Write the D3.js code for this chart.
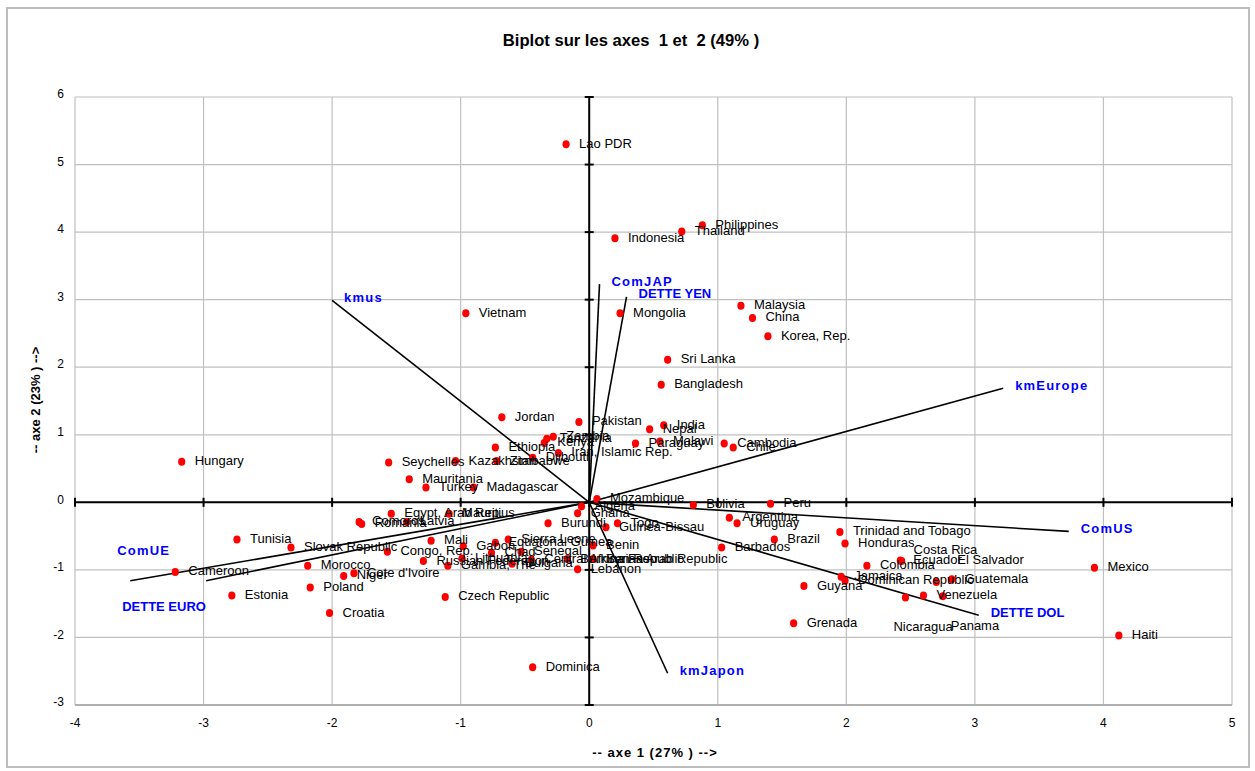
<!DOCTYPE html>
<html>
<head>
<meta charset="utf-8">
<script src="https://cdn.jsdelivr.net/npm/d3@7"></script>
<style>
  body { margin: 0; background: #fff; }
  svg { font-family: Arial, "Liberation Sans", sans-serif; }
</style>
</head>
<body>
<svg id="chart" width="1255" height="771"></svg>
<script>
// individuals (countries) on axes 1 and 2
var countries = ["Lao PDR", "Philippines", "Thailand", "Indonesia", "Vietnam", "Mongolia", "Malaysia", "China",
  "Korea, Rep.", "Sri Lanka", "Bangladesh", "Jordan", "Pakistan", "India", "Nepal", "Zambia", "Tanzania", "Kenya",
  "Ethiopia", "Paraguay", "Malawi", "Cambodia", "Chile", "Iran, Islamic Rep.", "Djibouti", "Zimbabwe", "Kazakhstan",
  "Hungary", "Seychelles", "Mauritania", "Turkey", "Madagascar", "Mozambique", "Algeria", "Ghana", "Bolivia", "Peru",
  "Egypt, Arab Rep.", "Mauritius", "Comoros", "Romania", "Latvia", "Burundi", "Togo", "Guinea-Bissau", "Argentina",
  "Uruguay", "Tunisia", "Slovak Republic", "Trinidad and Tobago", "Brazil", "Honduras", "Barbados", "Mali", "Gabon",
  "Sierra Leone", "Equatorial Guinea", "Benin", "Congo, Rep.", "Chad", "Senegal", "Central African Republic",
  "Burkina Faso", "Syrian Arab Republic", "Lebanon", "Russian Federation", "Lithuania", "Gambia, The", "Bulgaria",
  "Cameroon", "Morocco", "Niger", "Cote d'Ivoire", "Estonia", "Poland", "Croatia", "Czech Republic", "Dominica",
  "Ecuador", "Costa Rica", "El Salvador", "Colombia", "Jamaica", "Dominican Republic", "Guatemala", "Guyana",
  "Venezuela", "Nicaragua", "Panama", "Grenada", "Mexico", "Haiti"];

var axis1 = [-0.18, 0.88, 0.72, 0.20, -0.96, 0.24, 1.18, 1.27,
  1.39, 0.61, 0.56, -0.68, -0.08, 0.58, 0.47, -0.28, -0.33, -0.35,
  -0.73, 0.36, 0.55, 1.05, 1.12, -0.24, -0.44, -0.72, -1.04,
  -3.17, -1.56, -1.40, -1.27, -0.90, 0.06, -0.06, -0.09, 0.81, 1.41,
  -1.54, -1.09, -1.79, -1.77, -1.42, -0.32, 0.22, 0.13, 1.09,
  1.15, -2.74, -2.32, 1.95, 1.44, 1.99, 1.03, -1.23, -0.98,
  -0.63, -0.73, 0.03, -1.57, -0.76, -0.53, -0.45,
  -0.17, 0.03, -0.09, -1.29, -0.99, -1.10, -0.60,
  -3.22, -2.19, -1.91, -1.83, -2.78, -2.17, -2.02, -1.12, -0.44,
  2.42, 2.43, 2.70, 2.16, 1.96, 1.99, 2.82, 1.67,
  2.60, 2.46, 2.75, 1.59, 3.93, 4.12];

var axis2 = [5.30, 4.10, 4.01, 3.91, 2.80, 2.80, 2.91, 2.73,
  2.46, 2.11, 1.74, 1.26, 1.19, 1.14, 1.08, 0.97, 0.94, 0.88,
  0.81, 0.87, 0.90, 0.87, 0.81, 0.73, 0.66, 0.61, 0.61,
  0.60, 0.59, 0.34, 0.22, 0.22, 0.05, -0.06, -0.16, -0.04, -0.02,
  -0.17, -0.17, -0.29, -0.32, -0.29, -0.31, -0.31, -0.37, -0.23,
  -0.31, -0.55, -0.67, -0.44, -0.55, -0.61, -0.67, -0.57, -0.65,
  -0.55, -0.60, -0.64, -0.73, -0.75, -0.73, -0.85,
  -0.84, -0.84, -0.99, -0.87, -0.83, -0.94, -0.91,
  -1.03, -0.94, -1.09, -1.05, -1.38, -1.26, -1.64, -1.40, -2.44,
  -0.86, -0.87, -1.18, -0.94, -1.10, -1.16, -1.14, -1.24,
  -1.38, -1.41, -1.39, -1.79, -0.97, -1.97];

// variables (vector end points)
var variables = ["kmus", "ComJAP", "DETTE YEN", "kmEurope", "ComUS", "DETTE DOL", "kmJapon", "ComUE", "DETTE EURO"];
var varAxis1 = [-2.00, 0.08, 0.29, 3.22, 3.73, 3.03, 0.61, -3.57, -2.98];
var varAxis2 = [2.99, 3.23, 3.04, 1.69, -0.43, -1.67, -2.53, -1.16, -1.16];

var xTicks = d3.range(-4, 6);
var yTicks = d3.range(-3, 7);

var title = "Biplot sur les axes  1 et  2 (49% )";
var xTitle = "-- axe 1 (27% ) -->";
var yTitle = "-- axe 2 (23% ) -->";

// manual label moves (px), as in the original sheet
var labelNudge = {
  "Nicaragua": [-12, 30],
  "Panama": [8, 30],
  "Costa Rica": [12, -11],
  "El Salvador": [21, -21],
  "ComUE": [-13, -29],
  "DETTE EURO": [-84, 27]
};

var svg = d3.select("#chart");

var margin = {left: 75, right: 1232, top: 97, bottom: 705};
var x = d3.scaleLinear().domain([-4, 5]).range([margin.left, margin.right]);
var y = d3.scaleLinear().domain([-3, 6]).range([margin.bottom, margin.top]);

// outer frame
svg.append("rect")
  .attr("x", 7).attr("y", 8).attr("width", 1242).attr("height", 759)
  .style("fill", "none").style("stroke", "#bdbdbd").style("stroke-width", 2);

svg.append("text")
  .attr("x", 631).attr("y", 46)
  .attr("text-anchor", "middle")
  .style("font-weight", "bold").style("font-size", "16.6px")
  .style("white-space", "pre")
  .text(title);

// grid
var grid = svg.append("g").attr("class", "grid");
grid.selectAll("line.v").data(xTicks).enter().append("line")
  .attr("x1", function(d) { return x(d); }).attr("x2", function(d) { return x(d); })
  .attr("y1", y(-3)).attr("y2", y(6))
  .style("stroke", "#c0c0c0").style("stroke-width", 1.2);
grid.selectAll("line.h").data(yTicks).enter().append("line")
  .attr("y1", function(d) { return y(d); }).attr("y2", function(d) { return y(d); })
  .attr("x1", x(-4)).attr("x2", x(5))
  .style("stroke", "#c0c0c0").style("stroke-width", 1.2);
grid.append("line")
  .attr("x1", x(-4)).attr("x2", x(5)).attr("y1", y(-3)).attr("y2", y(-3))
  .style("stroke", "#b0b0b0").style("stroke-width", 2);

// tick labels
svg.selectAll("text.ytick").data(yTicks).enter().append("text")
  .attr("class", "ytick")
  .attr("x", 64).attr("y", function(d) { return y(d) - 2; })
  .attr("text-anchor", "end").attr("dominant-baseline", "middle")
  .style("font-size", "12px")
  .text(function(d) { return d; });
svg.selectAll("text.xtick").data(xTicks).enter().append("text")
  .attr("class", "xtick")
  .attr("x", function(d) { return x(d); }).attr("y", 724)
  .attr("text-anchor", "middle").attr("dominant-baseline", "middle")
  .style("font-size", "12px")
  .text(function(d) { return d; });

// axis titles
svg.append("text")
  .attr("x", 655).attr("y", 757)
  .attr("text-anchor", "middle")
  .style("font-weight", "bold").style("font-size", "13px")
  .style("letter-spacing", "1px")
  .style("white-space", "pre")
  .text(xTitle);
svg.append("text")
  .attr("transform", "translate(40,400) rotate(-90)")
  .attr("text-anchor", "middle")
  .style("font-weight", "bold").style("font-size", "13px")
  .style("white-space", "pre")
  .text(yTitle);

// axes through the origin, with cross ticks
var axes = svg.append("g").attr("class", "axes");
axes.append("line")
  .attr("x1", x(-4)).attr("x2", x(5)).attr("y1", y(0)).attr("y2", y(0))
  .style("stroke", "#000").style("stroke-width", 2);
axes.append("line")
  .attr("x1", x(0)).attr("x2", x(0)).attr("y1", y(-3)).attr("y2", y(6))
  .style("stroke", "#000").style("stroke-width", 2);
axes.selectAll("line.xt").data(xTicks).enter().append("line")
  .attr("x1", function(d) { return x(d); }).attr("x2", function(d) { return x(d); })
  .attr("y1", y(0) - 4.5).attr("y2", y(0) + 4.5)
  .style("stroke", "#000").style("stroke-width", 2);
axes.selectAll("line.yt").data(yTicks).enter().append("line")
  .attr("y1", function(d) { return y(d); }).attr("y2", function(d) { return y(d); })
  .attr("x1", x(0) - 4.5).attr("x2", x(0) + 4.5)
  .style("stroke", "#000").style("stroke-width", 2);

// variable vectors
var vars = variables.map(function(v, i) { return {name: v, a1: varAxis1[i], a2: varAxis2[i]}; });
svg.append("g").selectAll("line").data(vars).enter().append("line")
  .attr("x1", x(0)).attr("y1", y(0))
  .attr("x2", function(d) { return x(d.a1); })
  .attr("y2", function(d) { return y(d.a2); })
  .style("stroke", "#000").style("stroke-width", 1.6);

// country points
var pts = countries.map(function(c, i) { return {name: c, a1: axis1[i], a2: axis2[i]}; });
svg.append("g").selectAll("ellipse").data(pts).enter().append("ellipse")
  .attr("cx", function(d) { return x(d.a1); })
  .attr("cy", function(d) { return y(d.a2); })
  .attr("rx", 3.6).attr("ry", 4)
  .style("fill", "#ff0000");

svg.append("g").selectAll("text").data(pts).enter().append("text")
  .attr("x", function(d) { var n = labelNudge[d.name]; return x(d.a1) + (n ? n[0] : 13); })
  .attr("y", function(d) { var n = labelNudge[d.name]; return y(d.a2) + (n ? n[1] : 0); })
  .attr("dominant-baseline", "middle")
  .style("font-size", "13px").style("fill", "#000")
  .text(function(d) { return d.name; });

// variable labels
svg.append("g").selectAll("text").data(vars).enter().append("text")
  .attr("x", function(d) { var n = labelNudge[d.name]; return x(d.a1) + (n ? n[0] : 12); })
  .attr("y", function(d) { var n = labelNudge[d.name]; return y(d.a2) + (n ? n[1] : -2); })
  .attr("dominant-baseline", "middle")
  .style("font-size", "13px").style("font-weight", "bold").style("fill", "#0000ff")
  .style("letter-spacing", function(d) { return d.name.indexOf("DETTE") == 0 ? "0px" : "1.2px"; })
  .text(function(d) { return d.name; });
</script>
</body>
</html>
